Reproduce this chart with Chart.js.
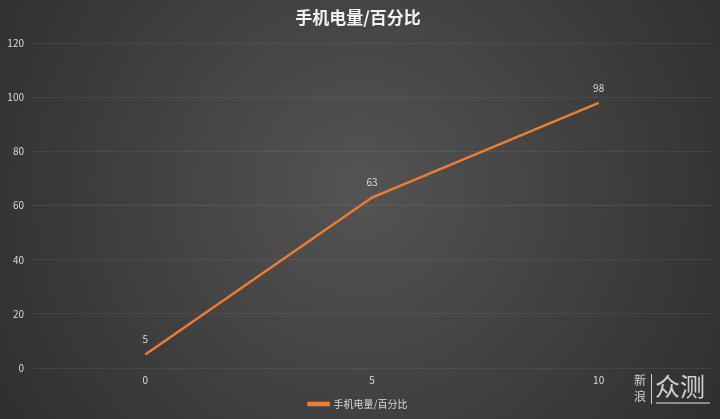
<!DOCTYPE html>
<html><head><meta charset="utf-8">
<script src="https://cdn.jsdelivr.net/npm/chart.js@4/dist/chart.umd.min.js"></script>
<style>html,body{margin:0;padding:0;background:#3a3a3a;}#wrap{width:720px;height:419px;}</style>
</head><body><div id="wrap"><canvas id="c" width="720" height="419"></canvas></div>
<script>
const categories = ['0', '5', '10'];
const batteryValues = [5, 63, 98];
const seriesName = '手机电量/百分比';
const titleText = '手机电量/百分比';
const FONT = '"Noto Sans CJK SC", "Noto Sans", sans-serif';

const bgPlugin = {
  id: 'bg',
  beforeDraw(chart) {
    const ctx = chart.ctx, w = chart.width, h = chart.height;
    ctx.save();
    const g = ctx.createRadialGradient(w * 0.5, h * 0.45, 10, w * 0.5, h * 0.45, w * 0.62);
    g.addColorStop(0, '#535353');
    g.addColorStop(1, '#2d2d2d');
    ctx.fillStyle = g;
    ctx.fillRect(0, 0, w, h);
    ctx.restore();
  },
  afterDraw(chart) {
    const ctx = chart.ctx;
    ctx.save();
    const meta = chart.getDatasetMeta(0);
    ctx.fillStyle = '#d9d9d9';
    ctx.font = '10px ' + FONT;
    ctx.textAlign = 'center';
    ctx.textBaseline = 'middle';
    meta.data.forEach((pt, i) => {
      ctx.fillText(String(batteryValues[i]), pt.x, pt.y - 15);
    });
    // watermark
    ctx.fillStyle = 'rgba(235,235,235,0.85)';
    ctx.font = '12px ' + FONT;
    ctx.textAlign = 'center';
    ctx.fillText('新', 640, 380);
    ctx.fillText('浪', 640, 396);
    ctx.fillRect(651, 374, 1, 30);
    ctx.font = '25px ' + FONT;
    ctx.textAlign = 'left';
    ctx.fillText('众测', 655, 386);
    ctx.fillStyle = 'rgba(200,200,200,0.6)';
    ctx.fillRect(656, 402, 54, 2);
    ctx.restore();
  }
};

new Chart(document.getElementById('c'), {
  type: 'line',
  data: {
    labels: categories,
    datasets: [{
      label: seriesName,
      data: batteryValues,
      borderColor: '#ed7d31',
      backgroundColor: '#ed7d31',
      borderWidth: 2.5,
      pointRadius: 0,
      tension: 0
    }]
  },
  options: {
    responsive: false,
    animation: false,
    layout: { padding: { left: 4, right: 8, top: 2, bottom: 0 } },
    plugins: {
      title: {
        display: true, text: titleText, color: '#f2f2f2',
        font: { family: FONT, size: 17, weight: 'bold' },
        padding: { top: 5, bottom: 16 }
      },
      legend: {
        position: 'bottom',
        labels: {
          color: '#d9d9d9', font: { family: FONT, size: 10 },
          boxWidth: 20, boxHeight: 2, padding: 7
        }
      },
      tooltip: { enabled: false }
    },
    scales: {
      x: {
        offset: true,
        grid: { display: false, drawTicks: false },
        border: { display: false },
        ticks: { color: '#d9d9d9', font: { family: FONT, size: 10 }, padding: 6 }
      },
      y: {
        min: 0, max: 120,
        ticks: { stepSize: 20, color: '#d9d9d9', font: { family: FONT, size: 10 }, padding: 8 },
        grid: { color: 'rgba(255,255,255,0.07)', lineWidth: 1, drawTicks: false },
        border: { display: false },
        afterFit(s) { s.width = 28; }
      }
    }
  },
  plugins: [bgPlugin]
});
</script></body></html>
